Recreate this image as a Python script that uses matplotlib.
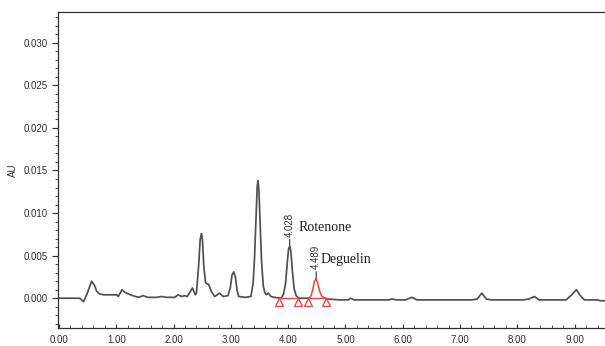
import matplotlib
matplotlib.use('Agg')
import matplotlib.pyplot as plt
from matplotlib.ticker import MultipleLocator, FormatStrFormatter

# chromatogram trace (time in min, absorbance in AU)
times = [0.00, 0.36, 0.43, 0.49, 0.57, 0.62, 0.66, 0.71, 0.78, 0.89, 1.01, 1.035,
         1.10, 1.15, 1.21, 1.29, 1.39, 1.47, 1.55, 1.70, 1.79, 1.88, 2.02, 2.08,
         2.14, 2.19, 2.24, 2.33, 2.38, 2.40, 2.44, 2.465, 2.487, 2.505, 2.53, 2.56,
         2.614, 2.66, 2.72, 2.805, 2.864, 2.95, 2.99, 3.02, 3.05, 3.08, 3.11, 3.136,
         3.25, 3.35, 3.39, 3.415, 3.44, 3.46, 3.473, 3.49, 3.51, 3.535, 3.565, 3.59,
         3.62, 3.657, 3.70, 3.757, 3.88, 3.92, 3.955, 3.985, 4.008, 4.028, 4.048, 4.075,
         4.105, 4.14, 4.19, 4.365]
signal = [0.0000, 0.0000, -0.0004, 0.0005, 0.0020, 0.0015, 0.0008, 0.0005, 0.0004, 0.0004, 0.0004, 0.0002,
          0.0010, 0.0007, 0.0005, 0.0003, 0.0001, 0.0003, 0.0001, 0.0001, 0.0002, 0.0001, 0.0001, 0.0004,
          0.0002, 0.0003, 0.0002, 0.0012, 0.0004, 0.0006, 0.0040, 0.0069, 0.0076, 0.0068, 0.0036, 0.0018,
          0.0016, 0.0008, 0.0002, 0.0006, 0.0002, 0.0003, 0.0012, 0.0027, 0.0031, 0.0025, 0.0009, 0.0002,
          0.0001, 0.0002, 0.0018, 0.0050, 0.0095, 0.0131, 0.0138, 0.0127, 0.0090, 0.0045, 0.0015, 0.0007,
          0.0004, 0.0006, 0.0002, 0.0001, 0.0000, 0.0005, 0.0017, 0.0042, 0.0058, 0.0061, 0.0055, 0.0031,
          0.0011, 0.0003, 0.0000, 0.0000]

# deguelin peak (drawn in red)
deg_times = [4.365, 4.40, 4.43, 4.46, 4.489, 4.515, 4.55, 4.59, 4.643]
deg_signal = [0.0000, 0.0003, 0.0010, 0.0020, 0.0023, 0.0018, 0.0008, 0.0002, 0.0000]

# tail after the peaks
tail_times = [4.643, 4.70, 4.90, 5.05, 5.09, 5.15, 5.50, 5.75, 5.81, 5.90, 6.05, 6.16,
              6.25, 7.20, 7.30, 7.38, 7.46, 7.55, 8.10, 8.20, 8.30, 8.38, 8.85, 8.95,
              9.03, 9.10, 9.17, 9.40, 9.45, 9.55]
tail_signal = [0.0000, -0.0001, -0.0002, -0.0002, 0.0000, -0.0002, -0.0002, -0.0002, -0.0001, -0.0002, -0.0002, 0.0001,
               -0.0002, -0.0002, -0.0001, 0.0006, -0.0001, -0.0002, -0.0002, -0.0001, 0.0002, -0.0002, -0.0002, 0.0004,
               0.0010, 0.0003, -0.0002, -0.0002, -0.0003, -0.0003]

# integration baselines (start, end)
base_start = [3.84, 4.35]
base_end = [4.17, 4.66]

peak_names = ['Rotenone', 'Deguelin']
peak_rt = [4.028, 4.489]
peak_height = [0.0061, 0.0023]

trace_col = '#505050'
red = '#f04848'
label_dx = [6, 3.5]

fig = plt.figure(figsize=(6.05, 3.46), dpi=100)
ax = fig.add_axes([0.096, 0.052, 0.904, 0.913])

ax.plot(times, signal, color=trace_col, lw=1.25)
ax.plot(tail_times, tail_signal, color=trace_col, lw=1.25)
ax.plot(deg_times, deg_signal, color=red, lw=1.15)

for s, e in zip(base_start, base_end):
    ax.plot([s, e], [0, 0], color=red, lw=1.0)
    ax.plot([s, e], [-0.00045, -0.00045], ls='none', marker='^', ms=6,
            mfc='none', mec=red, mew=1.0)

for name, rt, h, dx in zip(peak_names, peak_rt, peak_height, label_dx):
    ax.annotate('%.3f' % rt, xy=(rt, h), xytext=(0, 7), textcoords='offset points',
                rotation=90, ha='center', va='bottom', fontsize=7,
                family='Liberation Sans', color='#303030',
                arrowprops=dict(arrowstyle='-', color='#303030', lw=0.8, shrinkA=0, shrinkB=0))
    ax.annotate(name, xy=(rt, h), xytext=(dx, 13.5), textcoords='offset points',
                ha='left', va='center', fontsize=10, family='Liberation Serif', color='#202020')

ax.set_xlim(-0.015, 9.53)
ax.set_ylim(-0.0035, 0.0336)

ax.xaxis.set_major_locator(MultipleLocator(1))
ax.xaxis.set_minor_locator(MultipleLocator(0.2))
ax.xaxis.set_major_formatter(FormatStrFormatter('%.2f'))
ax.yaxis.set_major_locator(MultipleLocator(0.005))
ax.yaxis.set_minor_locator(MultipleLocator(0.001))
ax.yaxis.set_major_formatter(FormatStrFormatter('%.3f'))

ax.tick_params(axis='y', which='major', direction='out', length=4, width=0.8,
               labelsize=7, colors='#303030')
ax.tick_params(axis='y', which='minor', direction='out', length=2, width=0.6, colors='#303030')
ax.tick_params(axis='x', which='major', direction='in', length=3, width=0.8,
               labelsize=7, colors='#303030', pad=5)
ax.tick_params(axis='x', which='minor', direction='in', length=2, width=0.6, colors='#303030')
for lab in ax.get_xticklabels() + ax.get_yticklabels():
    lab.set_family('Liberation Sans')

ax.spines['right'].set_visible(False)
for key in ['left', 'bottom', 'top']:
    ax.spines[key].set_color('#303030')
    ax.spines[key].set_linewidth(0.9)

ax.set_ylabel('AU', fontsize=7, family='Liberation Sans', color='#303030', labelpad=4)

plt.savefig('out.png', dpi=100)
